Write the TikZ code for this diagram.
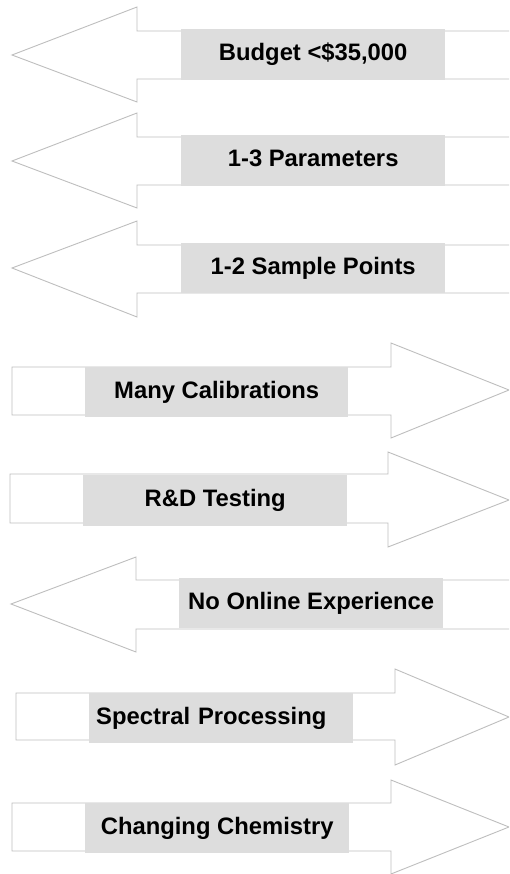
\documentclass[tikz,border=0pt]{standalone}
\usepackage{fontspec}
\setmainfont{Liberation Sans}
\definecolor{linegray}{RGB}{190,190,190}
\definecolor{boxgray}{RGB}{221,221,221}

\begin{document}
\begin{tikzpicture}[x=1pt, y=-1pt,
        arrowline/.style={draw=linegray, line width=0.9pt, fill=white, line join=miter},
        labelbox/.style={fill=boxgray, inner sep=0pt, anchor=north west,
            minimum width=264pt, minimum height=50pt,
            text height=17pt, text depth=5pt,
            font=\fontsize{23.8}{28}\selectfont\bfseries}]
        \useasboundingbox (0,0) rectangle (509,874);
        \clip (0,0) rectangle (509,874);

        % arrows pointing left
        \draw [arrowline] (12,55) -- (137,7) -- (137,31) -- (530,31) -- (530,79) -- (137,79) -- (137,102) -- cycle;
        \draw [arrowline] (12,161) -- (137,113) -- (137,137) -- (530,137) -- (530,185) -- (137,185) -- (137,208) -- cycle;
        \draw [arrowline] (12,268) -- (137,221) -- (137,245) -- (530,245) -- (530,293) -- (137,293) -- (137,317) -- cycle;
        \draw [arrowline] (11,604) -- (136,557) -- (136,580) -- (530,580) -- (530,629) -- (136,629) -- (136,652) -- cycle;

        % arrows pointing right
        \draw [arrowline] (12,367) -- (391,367) -- (391,343) -- (509,390) -- (391,438) -- (391,415) -- (12,415) -- cycle;
        \draw [arrowline] (10,474) -- (388,474) -- (388,452) -- (509,500) -- (388,547) -- (388,523) -- (10,523) -- cycle;
        \draw [arrowline] (16,693) -- (395,693) -- (395,669) -- (509,717) -- (395,765) -- (395,740) -- (16,740) -- cycle;
        \draw [arrowline] (12,803) -- (391,803) -- (391,780) -- (509,827) -- (391,874) -- (391,851) -- (12,851) -- cycle;

        % labels
        \node [labelbox, minimum height=51pt] (budget) at (181,29) {Budget <\$35,000};
        \node [labelbox, minimum height=51pt] (params) at (181,135) {1-3 Parameters};
        \node [labelbox] (samples) at (181,243) {1-2 Sample Points};
        \node [labelbox, minimum width=263pt] (calib) at (85,367) {Many Calibrations};
        \node [labelbox, minimum height=51pt] (testing) at (83,475) {R\&D Testing};
        \node [labelbox] (online) at (179,578) {No Online Experience};
        \node [labelbox, text width=250pt, inner xsep=7pt, align=left] (spectral) at (89,693) {Spectral Processing};
        \node [labelbox] (chemistry) at (85,803) {Changing Chemistry};
    \end{tikzpicture}
\end{document}
